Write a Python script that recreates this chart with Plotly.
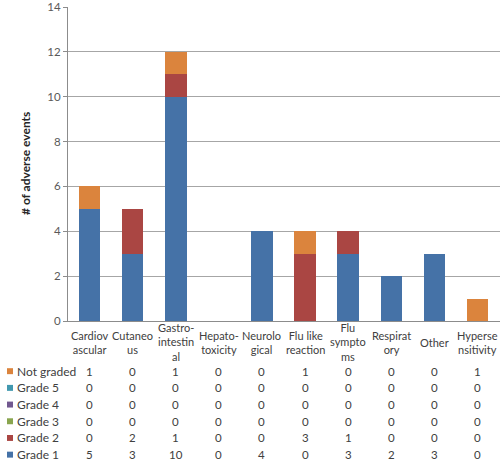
import plotly.graph_objects as go

categories = ["Cardiovascular", "Cutaneous", "Gastro-intestinal", "Hepato-toxicity",
              "Neurological", "Flu like reaction", "Flu symptoms", "Respiratory",
              "Other", "Hypersensitivity"]
category_labels = ["Cardiov<br>ascular", "Cutaneo<br>us", "Gastro-<br>intestin<br>al",
                   "Hepato-<br>toxicity", "Neurolo<br>gical", "Flu like<br>reaction",
                   "Flu<br>sympto<br>ms", "Respirat<br>ory", "Other", "Hyperse<br>nsitivity"]

grade1 = [5, 3, 10, 0, 4, 0, 3, 2, 3, 0]
grade2 = [0, 2, 1, 0, 0, 3, 1, 0, 0, 0]
grade3 = [0, 0, 0, 0, 0, 0, 0, 0, 0, 0]
grade4 = [0, 0, 0, 0, 0, 0, 0, 0, 0, 0]
grade5 = [0, 0, 0, 0, 0, 0, 0, 0, 0, 0]
not_graded = [1, 0, 1, 0, 0, 1, 0, 0, 0, 1]

y_ticks = [0, 2, 4, 6, 8, 10, 12, 14]

series = [
    ("Grade 1", grade1, "#4572A7"),
    ("Grade 2", grade2, "#AA4643"),
    ("Grade 3", grade3, "#89A54E"),
    ("Grade 4", grade4, "#71588F"),
    ("Grade 5", grade5, "#4198AF"),
    ("Not graded", not_graded, "#DB843D"),
]

FONT = "Lato"
FS = 11.5
W, H = 500, 462
L, R, T, B = 68, 0, 5, 141
plot_h = H - T - B
plot_w = W - L - R


def py(p):
    return (H - B - p) / plot_h


def px(p):
    return (p - L) / plot_w


fig = go.Figure()
for name, vals, col in series:
    fig.add_trace(go.Bar(x=categories, y=vals, name=name, marker_color=col,
                         marker_line_width=0, showlegend=False))

annotations = []
shapes = []
# category labels
for cat, lab in zip(categories, category_labels):
    annotations.append(dict(x=cat, xref="x", y=py(342.5), yref="paper", text=lab,
                            showarrow=False, yanchor="middle", xanchor="center",
                            font=dict(family=FONT, size=11, color="#404040")))
# data table rows (top row = Not graded)
row_y = [371.5, 388.3, 405.1, 421.9, 438.7, 455.5]
for (name, vals, col), ry in zip(reversed(series), row_y):
    for cat, v in zip(categories, vals):
        annotations.append(dict(x=cat, xref="x", y=py(ry), yref="paper", text=str(v),
                                showarrow=False, yanchor="middle", xanchor="center",
                                font=dict(family=FONT, size=FS, color="#404040")))
    annotations.append(dict(x=px(15), xref="paper", y=py(ry), yref="paper", text=name,
                            showarrow=False, yanchor="middle", xanchor="left",
                            font=dict(family=FONT, size=FS + 0.5, color="#404040")))
    shapes.append(dict(type="rect", xref="paper", yref="paper",
                       x0=px(7), x1=px(13), y0=py(ry + 3), y1=py(ry - 3),
                       fillcolor=col, line=dict(width=0)))

annotations.append(dict(x=px(25), xref="paper", y=py(163), yref="paper",
                        text="<b># of adverse events</b>", textangle=-90,
                        showarrow=False, xanchor="center", yanchor="middle",
                        font=dict(family=FONT, size=12, color="#262626")))

fig.update_layout(
    width=W, height=H,
    margin=dict(l=L, r=R, t=T, b=B),
    barmode="stack", bargap=0.5,
    plot_bgcolor="white", paper_bgcolor="white",
    annotations=annotations, shapes=shapes,
    xaxis=dict(showticklabels=False, showline=True, linecolor="#8c8c8c", linewidth=1,
               ticks="", showgrid=False, fixedrange=True),
    yaxis=dict(range=[0, 14], tickvals=y_ticks, showline=True, linecolor="#8c8c8c",
               linewidth=1, ticks="outside", ticklen=4, tickcolor="#8c8c8c",
               gridcolor="#a6a6a6", gridwidth=1, zeroline=False,
               ticklabeloverflow="allow",
               tickfont=dict(family=FONT, size=FS, color="#595959")),
)

fig.write_html("out.html", config={"displayModeBar": False, "staticPlot": True},
               post_script="document.body.style.margin='0';document.body.style.overflow='hidden';")
